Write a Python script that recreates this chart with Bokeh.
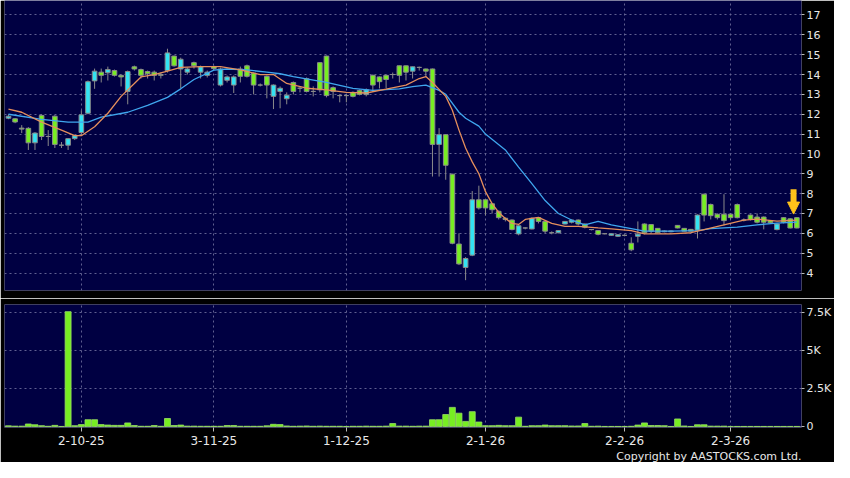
from bokeh.plotting import figure
from bokeh.layouts import column
from bokeh.models import Range1d, FixedTicker, ColumnDataSource, Arrow, NormalHead, Title
from bokeh.embed import file_html
from bokeh.resources import INLINE

# ---- data ----
opens = [11.80, 11.77, 11.30, 11.29, 10.56, 11.94, 10.88, 11.90, 10.44, 10.44,
         10.77, 11.08, 12.05, 13.68, 14.12, 14.09, 14.20, 13.96, 13.15, 14.39,
         14.25, 14.15, 14.12, 14.00, 14.20, 14.93, 14.28, 14.12, 14.60, 14.12,
         13.96, 14.40, 13.47, 13.71, 13.47, 14.28, 14.44, 14.07, 13.47, 13.91,
         12.90, 13.15, 12.78, 13.60, 13.31, 13.79, 13.15, 14.60, 14.93, 13.34,
         12.94, 12.94, 13.10, 13.20, 12.99, 13.96, 13.88, 13.96, 14.00, 14.44,
         14.44, 14.17, 14.36, 14.28, 14.28, 10.48, 10.97, 8.98, 5.46, 4.28,
         4.90, 7.69, 7.69, 7.49, 7.11, 6.76, 6.67, 5.97, 6.27, 6.22,
         6.79, 6.60, 6.03, 6.03, 6.47, 6.56, 6.67, 6.47, 6.19, 6.14,
         5.98, 5.90, 5.85, 5.90, 5.50, 5.85, 6.47, 6.44, 6.25, 6.08,
         6.08, 6.40, 6.25, 6.20, 6.16, 7.97, 7.45, 6.96, 6.96, 6.96,
         7.45, 6.67, 6.92, 6.82, 6.82, 6.64, 6.19, 6.79, 6.73, 6.79]
highs = [12.00, 11.80, 11.45, 11.35, 11.10, 12.00, 11.20, 11.95, 10.60, 10.80,
         10.95, 12.20, 13.70, 14.30, 14.30, 14.40, 14.25, 14.00, 14.20, 14.45,
         14.30, 14.20, 14.20, 14.10, 15.30, 14.95, 14.85, 14.35, 14.65, 14.45,
         14.20, 14.45, 14.35, 13.95, 13.95, 14.40, 14.50, 14.10, 13.55, 13.95,
         13.50, 13.40, 13.10, 13.65, 13.40, 13.85, 13.40, 14.60, 14.95, 13.40,
         13.00, 13.00, 13.15, 13.25, 13.30, 14.00, 13.90, 14.00, 14.10, 14.45,
         14.45, 14.40, 14.40, 14.30, 14.30, 11.30, 11.00, 9.00, 6.00, 4.80,
         8.13, 8.40, 7.70, 7.50, 7.15, 6.80, 6.70, 6.40, 6.30, 6.80,
         6.82, 6.62, 6.10, 6.16, 6.62, 6.70, 6.70, 6.50, 6.22, 6.16,
         6.00, 6.00, 5.95, 5.92, 5.80, 6.60, 6.50, 6.46, 6.27, 6.15,
         6.15, 6.42, 6.27, 6.22, 6.95, 8.00, 7.50, 7.00, 7.97, 7.00,
         7.50, 6.75, 6.95, 7.00, 6.85, 6.66, 6.50, 6.82, 6.76, 6.82]
lows = [11.75, 11.55, 11.05, 10.20, 10.20, 10.70, 10.40, 10.30, 10.30, 10.20,
        10.70, 10.95, 12.00, 13.28, 13.60, 13.70, 13.90, 13.40, 12.50, 14.20,
        13.80, 13.80, 13.70, 13.80, 14.10, 14.40, 13.30, 14.00, 14.30, 13.80,
        13.85, 14.20, 13.40, 13.60, 13.07, 13.60, 13.85, 13.00, 13.40, 12.80,
        12.26, 12.30, 12.50, 13.00, 13.10, 13.10, 12.90, 13.10, 12.85, 12.80,
        12.60, 12.60, 12.85, 12.95, 12.90, 13.20, 13.30, 13.30, 13.80, 13.60,
        13.70, 13.80, 14.20, 13.90, 8.86, 8.86, 8.70, 5.45, 4.40, 3.64,
        4.85, 7.20, 6.90, 7.00, 6.70, 6.60, 6.15, 5.90, 6.20, 6.20,
        6.50, 6.00, 5.95, 6.00, 6.45, 6.50, 6.40, 6.25, 6.15, 5.90,
        5.95, 5.88, 5.82, 5.85, 5.10, 5.54, 5.95, 6.00, 6.00, 6.05,
        6.05, 6.25, 6.10, 6.10, 5.74, 6.60, 6.70, 6.70, 6.40, 6.70,
        6.75, 6.60, 6.65, 6.50, 6.20, 6.50, 6.15, 6.50, 6.25, 6.25]
closes = [11.90, 11.61, 11.25, 10.56, 11.05, 10.88, 10.88, 10.48, 10.44, 10.77,
          10.92, 11.97, 13.64, 14.17, 13.96, 14.25, 13.96, 13.88, 14.15, 14.28,
          13.96, 14.04, 13.96, 13.96, 15.09, 14.44, 14.77, 14.28, 14.44, 14.39,
          14.12, 14.30, 14.28, 13.88, 13.88, 13.91, 13.91, 13.47, 13.47, 13.47,
          13.47, 13.31, 12.96, 13.15, 13.31, 13.15, 13.15, 13.23, 12.94, 13.15,
          12.94, 12.94, 12.90, 13.00, 13.23, 13.47, 13.64, 13.75, 14.00, 13.96,
          14.12, 14.39, 14.36, 14.17, 10.48, 10.97, 9.43, 5.50, 4.46, 4.73,
          7.69, 7.28, 7.28, 7.19, 6.79, 6.70, 6.19, 6.38, 6.27, 6.76,
          6.60, 6.11, 6.03, 6.14, 6.60, 6.67, 6.47, 6.31, 6.19, 5.95,
          5.98, 5.98, 5.93, 5.90, 5.17, 5.96, 6.03, 6.11, 6.03, 6.12,
          6.12, 6.27, 6.11, 6.11, 6.92, 6.92, 6.89, 6.79, 6.64, 6.79,
          6.79, 6.67, 6.70, 6.56, 6.56, 6.53, 6.47, 6.56, 6.27, 6.27]
volumes = [50, 30, 30, 170, 120, 60, 20, 80, 10, 7540,
           60, 130, 450, 450, 130, 100, 80, 80, 240, 70,
           20, 20, 70, 20, 530, 70, 100, 30, 30, 20,
           20, 20, 20, 70, 70, 20, 20, 20, 20, 50,
           150, 130, 40, 20, 30, 40, 20, 30, 20, 20,
           20, 10, 20, 20, 30, 20, 20, 30, 200, 30,
           30, 20, 30, 30, 450, 450, 790, 1260, 880, 340,
           980, 300, 60, 60, 80, 60, 60, 620, 20, 60,
           60, 100, 60, 60, 60, 40, 40, 200, 20, 30,
           10, 10, 10, 10, 20, 100, 240, 70, 70, 60,
           10, 500, 40, 10, 120, 120, 30, 30, 30, 10,
           10, 10, 10, 10, 10, 10, 10, 10, 10, 10]

# moving averages (read at selected candles)
ma_short_idx = [0, 2, 5, 8, 10, 11, 13, 15, 17, 19, 20, 22, 24, 26, 29, 32, 35, 38, 40,
                42, 45, 48, 51, 54, 57, 60, 62, 63, 64, 66, 67, 68, 69, 70, 71, 72, 73,
                74, 75, 76, 77, 78, 80, 82, 84, 86, 89, 91, 94, 96, 100, 103, 105, 108,
                111, 113, 116, 119]
ma_short_val = [12.26, 12.10, 11.60, 11.20, 10.92, 10.92, 11.37, 12.05, 12.90, 13.55,
                13.88, 14.00, 14.17, 14.36, 14.40, 14.40, 14.23, 14.00, 14.00,
                13.55, 13.31, 13.23, 13.10, 13.07, 13.26, 13.47, 13.80, 13.90, 13.60,
                12.90, 12.20, 11.20, 10.30, 9.60, 9.00, 8.10, 7.50,
                7.05, 6.75, 6.50, 6.45, 6.70, 6.80, 6.50, 6.35, 6.35, 6.27, 6.22,
                6.14, 5.97, 5.97, 6.03, 6.19, 6.43, 6.67, 6.72, 6.62, 6.67]
ma_long_idx = [0, 5, 9, 12, 14, 18, 21, 24, 26, 28, 31, 33, 36, 39, 41, 43, 48, 52, 55,
               59, 61, 63, 65, 66, 68, 69, 71, 72, 75, 77, 79, 81, 83, 85, 87, 89, 91,
               94, 96, 100, 104, 106, 110, 113, 116, 119]
ma_long_val = [12.00, 11.74, 11.60, 11.60, 11.85, 12.10, 12.45, 12.85, 13.28, 13.75,
               14.22, 14.28, 14.23, 14.12, 14.04, 13.90, 13.60, 13.30, 13.20,
               13.28, 13.39, 13.47, 13.20, 13.00, 12.10, 11.80, 11.40, 11.00, 10.20,
               9.34, 8.50, 7.65, 7.00, 6.67, 6.43, 6.60, 6.43,
               6.24, 6.11, 6.11, 6.14, 6.24, 6.31, 6.43, 6.51, 6.56]

tick_idx = [11, 31, 51, 72, 93, 109]
tick_labels = ["2-10-25", "3-11-25", "1-12-25", "2-1-26", "2-2-26", "2-3-26"]
price_ticks = [4, 5, 6, 7, 8, 9, 10, 11, 12, 13, 14, 15, 16, 17]
vol_ticks = [0, 2500, 5000, 7500]
vol_tick_labels = ["0", "2.5K", "5K", "7.5K"]

# ---- styles ----
BG = "#000042"
GREEN = "#77EE22"
CYAN = "#33E3F2"
EDGE = "#8a8a8a"
GRID = "#6a6a9a"
TXT = "#e8e8e8"
FONT = "DejaVu Sans"

n = len(opens)
idx = list(range(n))
up = [c > o for o, c in zip(opens, closes)]
src = ColumnDataSource(dict(
    x=idx, o=opens, h=highs, l=lows, c=closes,
    top=[max(o, c) for o, c in zip(opens, closes)],
    bot=[min(o, c) for o, c in zip(opens, closes)],
    col=[CYAN if u else GREEN for u in up],
    vol=volumes,
))

xr = Range1d(-0.6, n - 0.3)
RIGHT = 30


def style(p):
    p.outline_line_color = None
    p.yaxis.axis_line_color = None
    p.yaxis.major_tick_line_color = "#bbbbbb"
    p.yaxis.major_tick_in = 0
    p.yaxis.major_tick_out = 3
    p.yaxis.minor_tick_line_color = None
    p.yaxis.major_label_text_color = TXT
    p.yaxis.major_label_text_font = FONT
    p.yaxis.major_label_text_font_size = "11px"
    p.yaxis.major_label_standoff = 2
    p.xgrid.ticker = FixedTicker(ticks=tick_idx)
    for g in (p.xgrid, p.ygrid):
        g.grid_line_color = GRID
        g.grid_line_dash = "2 3"
        g.grid_line_alpha = 0.9


price = figure(width=834, height=298, x_range=xr, y_range=Range1d(3.12, 17.73),
               output_backend="svg", toolbar_location=None, y_axis_location="right",
               background_fill_color=BG, border_fill_color="black",
               min_border_left=4, min_border_top=0, min_border_bottom=8,
               min_border_right=RIGHT)
price.xaxis.visible = False
style(price)
price.yaxis.ticker = FixedTicker(ticks=price_ticks)

price.segment(x0="x", y0="l", x1="x", y1="h", source=src, line_color=EDGE, line_width=1)
price.vbar(x="x", width=0.7, top="top", bottom="bot", source=src,
           fill_color="col", line_color=EDGE, line_width=1)
price.line(ma_long_idx, ma_long_val, line_color="#3fa6ee", line_width=1.3)
price.line(ma_short_idx, ma_short_val, line_color="#e58f5c", line_width=1.3)

ax = idx[-1] - 0.5
price.add_layout(Arrow(end=NormalHead(size=12, fill_color="#FFC21A", line_color="#FFC21A"),
                       x_start=ax, y_start=highs[-1] + 1.4, x_end=ax, y_end=highs[-1] + 0.15,
                       line_color="#FFC21A", line_width=6))

vol = figure(width=834, height=164, x_range=xr, y_range=Range1d(-60, 8010),
             output_backend="svg", toolbar_location=None, y_axis_location="right",
             background_fill_color=BG, border_fill_color="black",
             min_border_left=4, min_border_top=6, min_border_bottom=0,
             min_border_right=RIGHT)
style(vol)
vol.yaxis.ticker = FixedTicker(ticks=vol_ticks)
vol.yaxis.major_label_overrides = {t: s for t, s in zip(vol_ticks, vol_tick_labels)}
vol.xaxis.ticker = FixedTicker(ticks=tick_idx)
vol.xaxis.major_label_overrides = {t: s for t, s in zip(tick_idx, tick_labels)}
vol.xaxis.axis_line_color = None
vol.xaxis.major_tick_line_color = "#bbbbbb"
vol.xaxis.major_tick_in = 0
vol.xaxis.major_tick_out = 4
vol.xaxis.minor_tick_line_color = None
vol.xaxis.major_label_text_color = TXT
vol.xaxis.major_label_text_font = FONT
vol.xaxis.major_label_text_font_size = "12px"
vol.xaxis.major_label_standoff = 4
vol.ygrid.ticker = FixedTicker(ticks=vol_ticks)

vol.vbar(x="x", width=0.9, top="vol", bottom=0, source=src,
         fill_color=GREEN, line_color="#99dd66", line_width=0.8)

vol.add_layout(Title(text="Copyright by AASTOCKS.com Ltd.", align="right",
                     text_color=TXT, text_font=FONT, text_font_size="11px",
                     text_font_style="normal", standoff=0, offset=0), "below")

p = column(price, vol, spacing=0)
open("out.html", "w").write(file_html(p, INLINE))
